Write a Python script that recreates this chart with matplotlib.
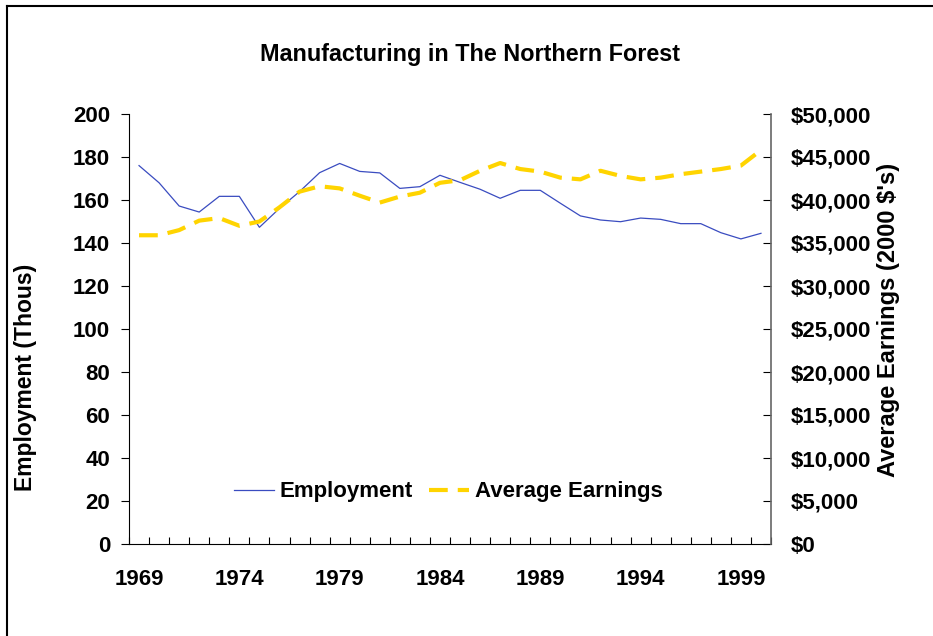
import numpy as np
import matplotlib.pyplot as plt
from matplotlib.lines import Line2D
from matplotlib.ticker import FuncFormatter, MultipleLocator

plt.rcParams['font.family'] = ['Liberation Sans', 'DejaVu Sans']
plt.rcParams['font.weight'] = 'bold'

years = np.arange(1969, 2001)

# employment, thousands
employment = [176.0, 168.0, 157.2, 154.4, 161.7, 161.7, 147.3, 156.1, 163.9, 172.7,
              177.0, 173.3, 172.6, 165.4, 166.2, 171.5, 168.2, 165.0, 160.8, 164.5,
              164.5, 158.5, 152.6, 150.7, 149.9, 151.6, 151.0, 149.0, 149.0, 144.8,
              141.9, 144.5]

# average earnings, 2000 dollars
earnings = [35900, 35900, 36500, 37600, 37900, 37000, 37500, 39150, 40970, 41600,
            41350, 40500, 39700, 40400, 40850, 42000, 42300, 43400, 44300, 43600,
            43300, 42600, 42400, 43400, 42800, 42400, 42600, 43000, 43300, 43600,
            44000, 45800]

label_years = [1969, 1974, 1979, 1984, 1989, 1994, 1999]

fig = plt.figure(figsize=(9.33, 6.36), dpi=100)
ax = fig.add_axes([129/933, 1 - 544/636, 642/933, 430/636])
ax2 = ax.twinx()

fs = 16
l1, = ax.plot(years, employment, color='#3a4cc0', lw=0.9, label='Employment')
l2, = ax2.plot(years, earnings, color='#ffd400', lw=3, dashes=(4.5, 2.4),
               label='Average Earnings')

ax.set_xlim(1968.5, 2000.5)
ax.set_ylim(0, 200)
ax2.set_ylim(0, 50000)
ax.yaxis.set_major_locator(MultipleLocator(20))
ax2.yaxis.set_major_locator(MultipleLocator(5000))
ax2.yaxis.set_major_formatter(FuncFormatter(lambda v, p: f'${int(v):,}'))

ax.set_xticks(label_years)
ax.set_xticks(np.arange(1968.5, 2001, 1), minor=True)
ax.tick_params(axis='x', which='major', length=0, pad=18, labelsize=fs)
ax.tick_params(axis='x', which='minor', direction='in', length=5, width=0.8)
ax.tick_params(axis='y', direction='out', length=6, width=0.8, labelsize=fs, pad=7.5)
ax2.tick_params(axis='y', direction='in', length=6, width=0.8, labelsize=fs, pad=14)

for a in (ax, ax2):
    a.spines['top'].set_visible(False)
    a.set_facecolor('none')
ax.spines['right'].set_visible(False)
ax2.spines['left'].set_visible(False)
ax2.spines['bottom'].set_visible(False)
ax2.spines['right'].set_color('#666666')
ax2.spines['right'].set_linewidth(1.2)

fig.text(26/933, 1 - 377/636, 'Employment (Thous)', rotation=90, fontsize=16.5,
         ha='center', va='center')
fig.text(888/933, 1 - 320/636, "Average Earnings (2000 $'s)", rotation=90, fontsize=17,
         ha='center', va='center')
fig.text(470/933, 1 - 54/636, 'Manufacturing in The Northern Forest', fontsize=16.8,
         ha='center', va='center')

ax2.legend(handles=[l1, l2], loc='center', bbox_to_anchor=(0.497, 0.121), ncol=2,
           frameon=False, fontsize=fs, handlelength=1.8, handletextpad=0.27,
           columnspacing=0.7)

# outer border
fig.add_artist(Line2D([7/933, 7/933], [0, 1 - 6/636], color='black', lw=1.5,
                      transform=fig.transFigure))
fig.add_artist(Line2D([7/933, 1], [1 - 6/636, 1 - 6/636], color='black', lw=1.5,
                      transform=fig.transFigure))

fig.savefig('out.png', dpi=100)
